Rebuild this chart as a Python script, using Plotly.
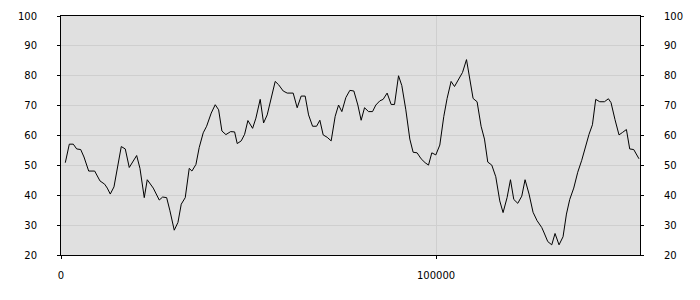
import plotly.graph_objects as go

x_vals = [1146, 2212, 3277, 4183, 5249, 6129, 7381, 8980, 10392, 11644, 12337, 13136,
          14122, 15002, 16068, 17133, 18199, 20171, 21050, 22196, 22995, 24594,
          26193, 27099, 28165, 29044, 30190, 31176, 32055, 33121, 34187, 34906,
          35972, 36851, 37917, 38823, 40049, 41115, 42021, 42900, 43966, 45218,
          46284, 46977, 48043, 48949, 49828, 51080, 51960, 53105, 54011, 54971,
          57102, 58008, 59234, 60300, 61899, 62964, 64030, 65096, 66002, 67068,
          68134, 69013, 69893, 70958, 72024, 73090, 73996, 74875, 75941, 77007,
          78073, 79139, 80018, 80924, 81990, 83056, 83935, 85001, 85880, 86946,
          88012, 88918, 89984, 90863, 91929, 92995, 93874, 94940, 96006, 97071,
          97977, 98857, 99923, 100988, 102054, 102934, 104000, 104906, 105972,
          107038, 108104, 108983, 109862, 110928, 111994, 112900, 113779, 114845,
          115911, 116977, 117856, 118922, 119829, 120708, 121774, 122840, 123719,
          124784, 125850, 126916, 128169, 128700, 129766, 130832, 131711, 132777,
          133843, 134749, 135628, 136694, 137760, 138826, 139892, 140771, 141677,
          142556, 143622, 144874, 145940, 146633, 147699, 148765, 149671, 150737,
          151617, 152683, 154095]

y_vals = [50.9, 57.1, 57.1, 55.5, 55.3, 52.8, 48.1, 48.1, 44.8, 43.7, 42.4, 40.4,
          42.8, 49.0, 56.3, 55.5, 49.3, 53.3, 49.0, 39.2, 45.2, 42.4,
          38.4, 39.4, 39.2, 34.8, 28.3, 30.9, 37.0, 39.2, 49.0, 48.1,
          50.3, 56.0, 60.9, 63.1, 67.5, 70.3, 68.6, 61.5, 60.3, 61.3,
          61.2, 57.3, 58.2, 60.4, 65.0, 62.4, 65.8, 72.1, 64.2, 66.9,
          78.1, 77.0, 74.9, 74.2, 74.2, 69.3, 73.2, 73.2, 66.9, 63.1,
          63.1, 65.1, 60.2, 59.4, 58.2, 66.4, 70.2, 68.0, 72.7, 75.1,
          74.9, 70.2, 65.1, 69.3, 68.0, 68.0, 70.2, 71.6, 72.1, 74.2,
          70.4, 70.4, 80.0, 76.7, 68.6, 58.8, 54.4, 54.2, 52.2, 50.9,
          50.1, 54.2, 53.5, 56.8, 66.4, 72.4, 78.1, 76.4, 78.7,
          81.1, 85.4, 78.3, 72.4, 71.3, 63.1, 58.8, 51.1, 50.1,
          46.2, 38.1, 34.2, 39.2, 45.2, 38.6, 37.3, 39.7, 45.2,
          40.4, 34.3, 31.5, 29.2, 27.7, 24.5, 23.4, 27.2, 23.4,
          26.1, 33.7, 38.6, 42.4, 47.7, 51.7, 56.6, 60.4, 63.6,
          72.1, 71.3, 71.3, 72.3, 71.0, 65.3, 60.2, 61.0, 62.0,
          55.5, 55.3, 52.2]

x_ticks = [0, 100000]
x_tick_labels = ["0", "100000"]
y_ticks = [20, 30, 40, 50, 60, 70, 80, 90, 100]

font = dict(family="DejaVu Sans", size=10, color="#000000")
grid = "#cfcfcf"

fig = go.Figure()
fig.add_trace(go.Scatter(x=x_vals, y=y_vals, mode="lines",
                         line=dict(color="#000000", width=1), showlegend=False))
fig.add_trace(go.Scatter(x=x_vals, y=y_vals, mode="lines", yaxis="y2",
                         line=dict(color="rgba(0,0,0,0)", width=0),
                         hoverinfo="skip", showlegend=False))

fig.update_layout(
    width=700, height=300,
    margin=dict(l=61, r=60, t=10, b=45),
    paper_bgcolor="#ffffff",
    plot_bgcolor="#e0e0e0",
    font=font,
    xaxis=dict(range=[0, 154360], tickvals=x_ticks, ticktext=x_tick_labels,
               showgrid=True, gridcolor=grid, gridwidth=1, zeroline=False,
               showline=True, linecolor="#000000", linewidth=1, mirror=True,
               ticks="outside", ticklen=3, tickcolor="#000000",
               tickfont=font, ticklabelstandoff=8),
    yaxis=dict(range=[20, 100], tickvals=y_ticks,
               showgrid=True, gridcolor=grid, gridwidth=1, zeroline=False,
               showline=True, linecolor="#000000", linewidth=1, mirror=True,
               ticks="outside", ticklen=3, tickcolor="#000000",
               tickfont=font, ticklabelstandoff=18),
    yaxis2=dict(range=[20, 100], tickvals=y_ticks, overlaying="y", side="right",
                showgrid=False, zeroline=False,
                showline=True, linecolor="#000000", linewidth=1,
                ticks="outside", ticklen=3, tickcolor="#000000",
                tickfont=font, ticklabelstandoff=18),
)

fig.write_html("out.html")
